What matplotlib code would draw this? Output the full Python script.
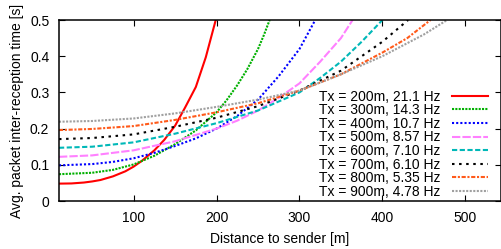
import matplotlib
matplotlib.use('Agg')
from matplotlib import pyplot as plt
from matplotlib.ticker import FuncFormatter

plt.rcParams['font.family'] = ['Liberation Sans', 'DejaVu Sans']

# Values (distance [m] -> avg inter-reception time [s])
labels = ['Tx = 200m, 21.1 Hz', 'Tx = 300m, 14.3 Hz', 'Tx = 400m, 10.7 Hz',
          'Tx = 500m, 8.57 Hz', 'Tx = 600m, 7.10 Hz', 'Tx = 700m, 6.10 Hz',
          'Tx = 800m, 5.35 Hz', 'Tx = 900m, 4.78 Hz']

d_200 = [10, 25, 40, 50, 60, 75, 90, 100, 110, 125, 137, 150, 162, 175, 187, 199]
t_200 = [0.048, 0.0485, 0.051, 0.054, 0.058, 0.068, 0.082, 0.095, 0.111, 0.140,
         0.169, 0.208, 0.258, 0.315, 0.397, 0.5]

d_300 = [10, 50, 75, 100, 125, 150, 175, 200, 212, 225, 237, 250, 257, 264]
t_300 = [0.074, 0.078, 0.086, 0.101, 0.125, 0.157, 0.195, 0.245, 0.278, 0.32,
         0.364, 0.42, 0.458, 0.5]

d_400 = [10, 50, 75, 100, 125, 150, 175, 200, 225, 250, 275, 300, 319]
t_400 = [0.0985, 0.102, 0.108, 0.118, 0.133, 0.152, 0.173, 0.20, 0.235, 0.28,
         0.345, 0.42, 0.5]

d_500 = [10, 50, 100, 150, 200, 225, 250, 275, 300, 325, 350, 364]
t_500 = [0.122, 0.126, 0.140, 0.165, 0.20, 0.222, 0.25, 0.285, 0.325, 0.385, 0.45, 0.5]

d_600 = [10, 50, 100, 150, 200, 250, 300, 325, 350, 375, 400]
t_600 = [0.147, 0.150, 0.162, 0.186, 0.215, 0.25, 0.30, 0.34, 0.385, 0.44, 0.5]

d_700 = [10, 50, 100, 150, 200, 250, 300, 350, 400, 431]
t_700 = [0.171, 0.174, 0.184, 0.205, 0.23, 0.262, 0.305, 0.36, 0.44, 0.5]

d_800 = [10, 50, 100, 150, 200, 250, 300, 350, 400, 430, 458]
t_800 = [0.196, 0.199, 0.207, 0.224, 0.245, 0.27, 0.305, 0.35, 0.41, 0.45, 0.5]

d_900 = [10, 50, 100, 150, 200, 250, 300, 350, 400, 450, 478]
t_900 = [0.219, 0.221, 0.228, 0.242, 0.26, 0.28, 0.305, 0.35, 0.40, 0.46, 0.5]

series = [(d_200, t_200), (d_300, t_300), (d_400, t_400), (d_500, t_500),
          (d_600, t_600), (d_700, t_700), (d_800, t_800), (d_900, t_900)]

colors = ['#ff0000', '#00b000', '#0000ff', '#ff80ff',
          '#00b8b8', '#000000', '#ff5a1a', '#a0a0a0']
dashes = [None, (1, 0.6), (1, 1), (4, 1), (2.5, 1.2), (1.2, 2.2), (2, 0.8, 1, 0.8), (1, 0.7)]

fig = plt.figure(figsize=(5.02, 2.49), dpi=100)
ax = fig.add_axes([59 / 502, 1 - 201 / 249, 442 / 502, 181 / 249])

for (d, t), lab, c, ds in zip(series, labels, colors, dashes):
    if ds is None:
        ax.plot(d, t, color=c, lw=1.5, label=lab)
    else:
        ax.plot(d, t, color=c, lw=1.5, dashes=ds, label=lab)

ax.set_xlim(10, 543)
ax.set_ylim(0, 0.5)
ax.set_xticks([100, 200, 300, 400, 500])
ax.set_yticks([0, 0.1, 0.2, 0.3, 0.4, 0.5])
ax.yaxis.set_major_formatter(FuncFormatter(lambda v, p: '0' if v == 0 else f'{v:.1f}'))
ax.tick_params(direction='in', top=True, right=True, length=4, width=0.8,
               labelsize=10, pad=7)
for s in ax.spines.values():
    s.set_linewidth(1.1)

ax.set_xlabel('Distance to sender [m]', fontsize=10, labelpad=5)
ax.set_ylabel('Avg. packet inter-reception time [s]', fontsize=10, labelpad=4)

ax.legend(loc='upper right', bbox_to_anchor=(0.97, 0.615), frameon=False,
          markerfirst=False, fontsize=10, handlelength=2.6, handletextpad=0.8,
          labelspacing=-0.03, borderpad=0, borderaxespad=0)

fig.savefig('out.png', dpi=100)
